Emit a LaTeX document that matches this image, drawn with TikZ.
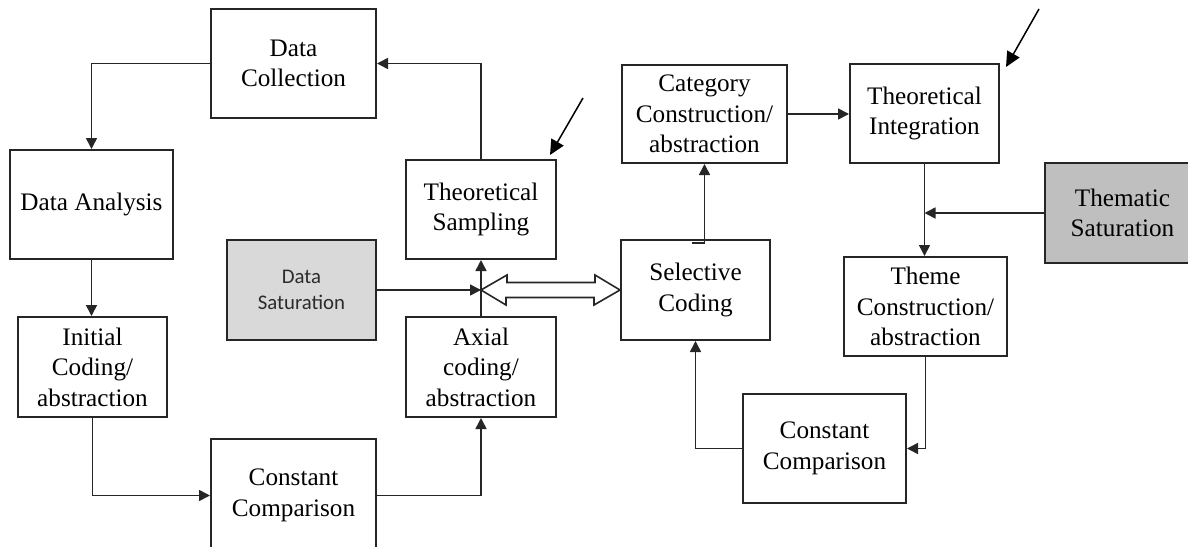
\documentclass[tikz,border=0pt]{standalone}
\usepackage{fontspec}
\setmainfont{Liberation Serif}
\newfontfamily\calibrifont{Carlito}
\usetikzlibrary{arrows.meta,calc}
\definecolor{lightfill}{HTML}{D9D9D9}
\definecolor{darkfill}{HTML}{BFBFBF}
\definecolor{softtext}{HTML}{2B2B2B}
\begin{document}
\begin{tikzpicture}[x=0.5pt,y=-0.5pt,
  box/.style={draw=black!85,line width=1pt,rectangle,inner sep=0pt,align=center,
    font=\fontsize{12.6}{15.2}\selectfont},
  satbox/.style={box,fill=lightfill,text=softtext,
    font=\calibrifont\fontsize{10.4}{13}\selectfont},
  thembox/.style={box,fill=darkfill,text=black},
  arr/.style={draw=black!85,line width=0.8pt,-{Triangle[length=5.5pt,width=5.5pt]}},
  line/.style={draw=black!85,line width=0.8pt},
  pointer/.style={draw=black,line width=0.75pt,-{Triangle[length=7.5pt,width=7pt]}},
  hollow/.style={draw=black!85,line width=0.8pt,fill=white,line join=miter}]
\useasboundingbox (0,0) rectangle (1188,546);
\clip (0,0) rectangle (1188,546);

% ---- left loop ----
\node[box,minimum width=82.5pt,minimum height=54.5pt] (dc) at (293.5,63.5) {Data\\Collection};
\node[box,minimum width=81.5pt,minimum height=54.5pt] (da) at (91.5,204.5) {Data Analysis};
\node[box,minimum width=74.5pt,minimum height=50pt] (ic) at (92.5,367) {Initial\\Coding/\\abstraction};
\node[box,minimum width=82.5pt,minimum height=56.5pt] (cc1) at (293.5,495.5) {Constant\\Comparison};
\node[box,minimum width=75pt,minimum height=50pt] (ax) at (481,367) {Axial\\coding/\\abstraction};
\node[box,minimum width=75pt,minimum height=49.5pt] (ts) at (481,209.5) {Theoretical\\Sampling};
\node[satbox,minimum width=74.5pt,minimum height=50pt] (ds) at (301.5,290) {Data\\Saturation};

% ---- right loop ----
\node[box,minimum width=74.5pt,minimum height=50pt] (sc) at (695.5,290) {Selective\\Coding};
\node[box,minimum width=82.5pt,minimum height=49pt] (cat) at (704.5,114) {Category\\Construction/\\abstraction};
\node[box,minimum width=74.5pt,minimum height=49.5pt] (ti) at (924.5,113.5) {Theoretical\\Integration};
\node[thembox,minimum width=77.5pt,minimum height=50pt] (th) at (1122.5,213) {Thematic\\Saturation};
\node[box,minimum width=81.5pt,minimum height=49.5pt] (tc) at (925.5,306.5) {Theme\\Construction/\\abstraction};
\node[box,minimum width=81.5pt,minimum height=54.5pt] (cc2) at (824.5,448.5) {Constant\\Comparison};

% junction below the sampling box
\coordinate (J) at (481,290);

% ---- connectors, left loop ----
\draw[arr] (dc.west) -| (da.north);
\draw[arr] (da.south) -- (da.south |- ic.north);
\draw[arr] (ic.south) |- (cc1.west);
\draw[arr] (cc1.east) -| (ax.south);
\draw[line] (ax.north) -- (J);
\draw[arr] (J) -- (ts.south);
\draw[arr] (ds.east) -- (J);
\draw[arr] (ts.north) |- (dc.east);

% two-headed hollow arrow between the loops
\draw[hollow] (J) -- ++(26,-15) -- ++(0,7.5) -- ++(88,0) -- ++(0,-7.5)
  -- (sc.west) -- ++(-26,15) -- ++(0,-7.5) -- ++(-88,0) -- ++(0,7.5) -- cycle;

% ---- connectors, right loop ----
\draw[arr] ($(sc.north)+(-3.5,4)$) -- ($(cat.south |- sc.north)+(0,4)$) -- (cat.south);
\draw[arr] (cat.east) -- (cat.east -| ti.west);
\draw[arr] (ti.south) -- (ti.south |- tc.north);
\draw[arr] (th.west) -- (th.west -| ti.south);
\draw[arr] (tc.south) |- (cc2.east);
\draw[arr] (cc2.west) -| (sc.south);

% pointers to the sampling and integration boxes
\coordinate (p1) at (583,98);
\coordinate (p2) at (1039,9);
\draw[pointer] (p1) -- ([shift={(-7,-4)}]ts.north east);
\draw[pointer] (p2) -- ([shift={(6,4)}]ti.north east);
\end{tikzpicture}
\end{document}
